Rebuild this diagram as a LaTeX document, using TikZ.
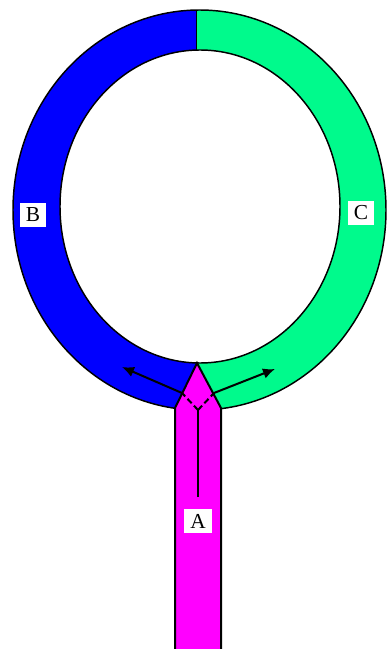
\documentclass[tikz,border=0pt]{standalone}
\usepackage{fontspec}
\setmainfont{Liberation Serif}
\usetikzlibrary{arrows.meta}
\definecolor{ringblue}{RGB}{0,0,255}
\definecolor{ringgreen}{RGB}{0,250,140}
\definecolor{stemmag}{RGB}{255,0,255}
\tikzset{
  lbl/.style={fill=white,inner xsep=4.5pt,inner ysep=3.5pt,font=\fontsize{16}{16}\selectfont},
  flow/.style={line width=1.5pt,-{Latex[length=9pt,width=8pt]}},
  split/.style={line width=1.5pt,dash pattern=on 4.5pt off 2.5pt}
}
\begin{document}
\begin{tikzpicture}[x=0.75pt,y=-0.75pt]
\useasboundingbox (0,0) rectangle (387,649);
\begin{scope}
\clip (0,0) rectangle (196.5,649);
\fill[ringblue,even odd rule] (199.5,210) ellipse [x radius=186.5,y radius=200] (200,206.5) ellipse [x radius=140,y radius=156.5];
\end{scope}
\begin{scope}
\clip (196.5,0) rectangle (387,649);
\fill[ringgreen,even odd rule] (199.5,210) ellipse [x radius=186.5,y radius=200] (200,206.5) ellipse [x radius=140,y radius=156.5];
\end{scope}
\draw[line width=1.1pt] (199.5,210) ellipse [x radius=186.5,y radius=200];
\draw[line width=1.1pt] (200,206.5) ellipse [x radius=140,y radius=156.5];
\draw[line width=1.1pt] (196.5,10) -- (196.5,50);
\filldraw[fill=stemmag,draw=black,line width=1.5pt] (197,363) -- (175,408) -- (175,655) -- (221,655) -- (221,408) -- cycle;
\coordinate (tailA) at (198,497);
\coordinate (fork) at (198,410);
\coordinate (shB) at (182,393);
\coordinate (shC) at (214,393);
\coordinate (tipB) at (122,367);
\coordinate (tipC) at (275,369);
\draw[line width=1.5pt] (tailA) -- (fork);
\draw[split] (fork) -- (shB) (fork) -- (shC);
\draw[flow] (shB) -- (tipB);
\draw[flow] (shC) -- (tipC);
\node[lbl] (labA) at (198,521) {A};
\node[lbl] (labB) at (33,215) {B};
\node[lbl] (labC) at (361,213) {C};
\end{tikzpicture}
\end{document}
